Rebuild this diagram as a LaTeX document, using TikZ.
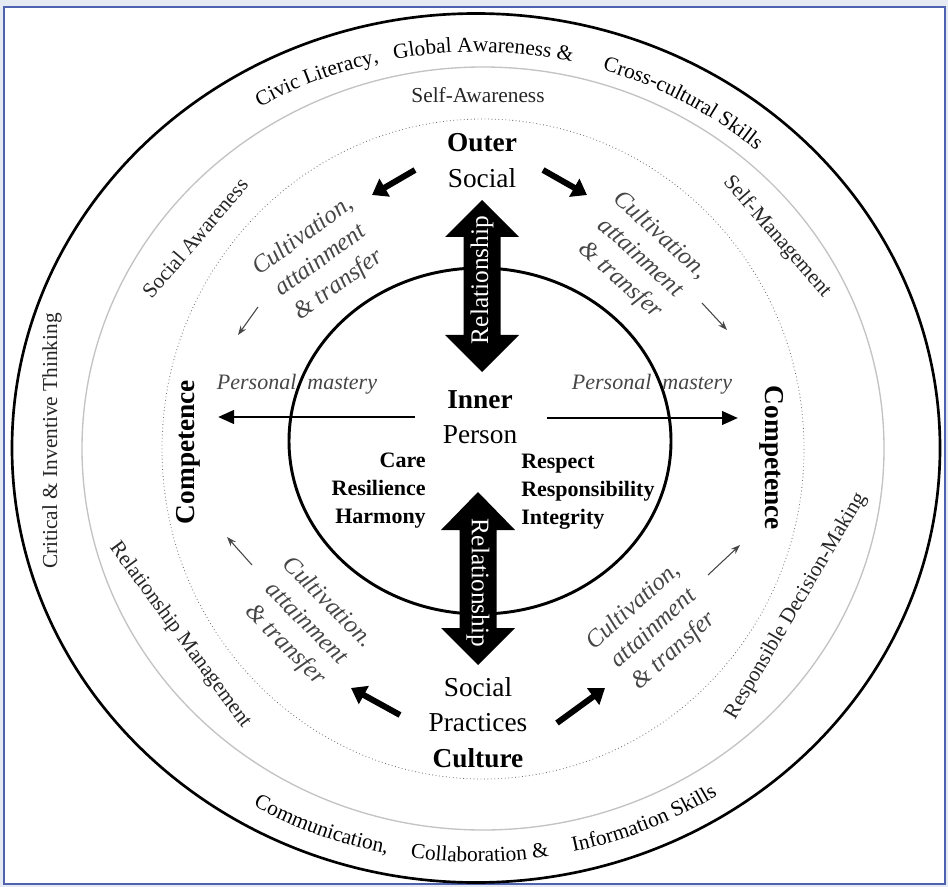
\documentclass[tikz,border=0pt]{standalone}
\usepackage{fontspec}
\setmainfont{Liberation Serif}
\usetikzlibrary{arrows.meta,decorations.text}

\definecolor{framefill}{RGB}{229,234,243}
\definecolor{frameblue}{RGB}{78,98,176}
\definecolor{ringgray}{RGB}{195,195,195}
\definecolor{dotgray}{RGB}{110,110,110}
\definecolor{inkgray}{RGB}{70,70,70}

\newcommand{\ringsize}{\fontsize{16}{19}\selectfont}
\newcommand{\keysize}{\fontsize{20.5}{24}\selectfont}
\newcommand{\valsize}{\fontsize{16.5}{21}\selectfont}
\newcommand{\cultsize}{\fontsize{18.5}{22.5}\selectfont}
\newcommand{\mastsize}{\fontsize{16.5}{20}\selectfont}
\newcommand{\relsize}{\fontsize{19}{22}\selectfont}

\begin{document}
\begin{tikzpicture}[x=0.75pt,y=0.75pt,yscale=-1,xscale=1,
  ringtext/.style={font=\ringsize, text=black!85, inner sep=0.75pt},
  keytext/.style={font=\keysize, inner sep=0.75pt},
  valtext/.style={font=\valsize\bfseries, inner sep=0.75pt},
  culttext/.style={font=\cultsize\itshape, text=inkgray, align=center, inner sep=0.75pt},
  masttext/.style={font=\mastsize\itshape, text=inkgray, inner sep=0.75pt},
  reltext/.style={font=\relsize, text=white, inner sep=0.75pt},
  bigarrow/.style={line width=4.5pt, -{Triangle[length=11pt,width=15pt]}},
  thinarrow/.style={draw=inkgray, line width=0.8pt, -{Stealth[length=7pt,width=5pt]}},
  reacharrow/.style={line width=2.2pt, -{Triangle[length=12pt,width=10pt]}},
  blockarrow/.style={fill=black, draw=none},
  ringpath/.style={decorate, decoration={text along path, text align=center, text={|\ringsize|#1}}}
]
\useasboundingbox (0,0) rectangle (948,887);
% frame
\fill[framefill] (0,0) rectangle (948,887);
\draw[frameblue, line width=1.2pt, fill=white] (4,7) rectangle (945,884);

% rings
\draw[line width=2pt] (476,448) ellipse [x radius=464, y radius=434.5];
\draw[ringgray, line width=1pt] (483,448.5) ellipse [x radius=401, y radius=381.5];
\draw[dotgray, line width=0.6pt, dotted] (483,449) ellipse [x radius=321, y radius=330];
\draw[line width=2.2pt] (480,441) ellipse [x radius=191, y radius=173];

% outer ring
\coordinate (ctr) at (476,448);
\path[ringpath={Civic Literacy,}] (ctr) ++(-132:425 and 396) arc[start angle=-132, end angle=-92, x radius=425, y radius=396];
\path[ringpath={Global Awareness {\&}}] (ctr) ++(-109:425 and 396) arc[start angle=-109, end angle=-69, x radius=425, y radius=396];
\path[ringpath={Cross-cultural Skills}] (ctr) ++(-85:425 and 396) arc[start angle=-85, end angle=-36, x radius=425, y radius=396];
\path[ringpath={Communication,}] (ctr) ++(131:443 and 414) arc[start angle=131, end angle=91, x radius=443, y radius=414];
\path[ringpath={Collaboration {\&}}] (ctr) ++(109.5:443 and 414) arc[start angle=109.5, end angle=69.5, x radius=443, y radius=414];
\path[ringpath={Information Skills}] (ctr) ++(87:443 and 414) arc[start angle=87, end angle=47, x radius=443, y radius=414];
\node[ringtext, rotate=90] (critic) at (52,441) {Critical \& Inventive Thinking};

% second ring
\node[ringtext] (selfaw) at (478,95) {Self-Awareness};
\node[ringtext, rotate=49.5] (socaw) at (195,238) {Social Awareness};
\node[ringtext, rotate=-49] (selfman) at (777,237) {Self-Management};
\node[ringtext, rotate=-53.6] (relman) at (180,635) {Relationship Management};
\node[ringtext, rotate=59.6] (respdm) at (796,606) {Responsible Decision-Making};

% key words
\node[keytext, font=\keysize\bfseries] (outer) at (482,143) {Outer};
\node[keytext] (social) at (482,178) {Social};
\node[keytext, font=\keysize\bfseries] (inner) at (480,400) {Inner};
\node[keytext] (person) at (480,435) {Person};
\node[keytext] (socialb) at (478,687) {Social};
\node[keytext] (practices) at (478,723) {Practices};
\node[keytext, font=\keysize\bfseries] (culture) at (478,758) {Culture};
\node[keytext, font=\keysize\bfseries, rotate=90] (compl) at (188,452) {Competence};
\node[keytext, font=\keysize\bfseries, rotate=-90] (compr) at (772,458) {Competence};

\node[valtext, anchor=east, align=right] (valuesl) at (427,491) {Care\\Resilience\\Harmony};
\node[valtext, anchor=west, align=left] (valuesr) at (520,492) {Respect\\Responsibility\\Integrity};

\node[masttext] (mastl) at (297,384) {Personal \ mastery};
\node[masttext] (mastr) at (652,384) {Personal \ mastery};

\node[culttext, rotate=36] (cultul) at (321,261) {Cultivation,\\attainment\\\& transfer};
\node[culttext, rotate=-42] (cultur) at (640,258) {Cultivation,\\attainment\\\& transfer};
\node[culttext, rotate=-45] (cultll) at (306,624) {Cultivation.\\attainment\\\& transfer};
\node[culttext, rotate=42] (cultlr) at (654,629) {Cultivation,\\attainment\\\& transfer};

% relationship arrows
\fill[blockarrow] (482,200) -- (519,237) -- (500.5,237) -- (500.5,335) -- (519,335) -- (482,372)
  -- (445,335) -- (463.5,335) -- (463.5,237) -- (445,237) -- cycle;
\fill[blockarrow] (478,492) -- (515,530) -- (496.5,530) -- (496.5,628) -- (515,628) -- (478,665)
  -- (441,628) -- (459.5,628) -- (459.5,530) -- (441,530) -- cycle;
\node[reltext, rotate=90] (relup) at (482,280) {Relationship};
\node[reltext, rotate=-90] (reldown) at (478,583) {Relationship};

% arrows
\coordinate (ul1) at (415,170); \coordinate (ul2) at (372,195);
\coordinate (ur1) at (543,170); \coordinate (ur2) at (587,195);
\coordinate (ll1) at (400,715); \coordinate (ll2) at (351,688);
\coordinate (lr1) at (557,723); \coordinate (lr2) at (605,688);
\draw[bigarrow] (ul1) -- (ul2);
\draw[bigarrow] (ur1) -- (ur2);
\draw[bigarrow] (ll1) -- (ll2);
\draw[bigarrow] (lr1) -- (lr2);

\coordinate (tul1) at (258,307); \coordinate (tul2) at (238,335);
\coordinate (tur1) at (702,303); \coordinate (tur2) at (727,330);
\coordinate (tll1) at (252,565); \coordinate (tll2) at (227,537);
\coordinate (tlr1) at (708,575); \coordinate (tlr2) at (740,545);
\draw[thinarrow] (tul1) -- (tul2);
\draw[thinarrow] (tur1) -- (tur2);
\draw[thinarrow] (tll1) -- (tll2);
\draw[thinarrow] (tlr1) -- (tlr2);

\coordinate (hl1) at (415,417); \coordinate (hl2) at (218,417);
\coordinate (hr1) at (547,418); \coordinate (hr2) at (738,418);
\draw[reacharrow] (hl1) -- (hl2);
\draw[reacharrow] (hr1) -- (hr2);
\end{tikzpicture}
\end{document}
